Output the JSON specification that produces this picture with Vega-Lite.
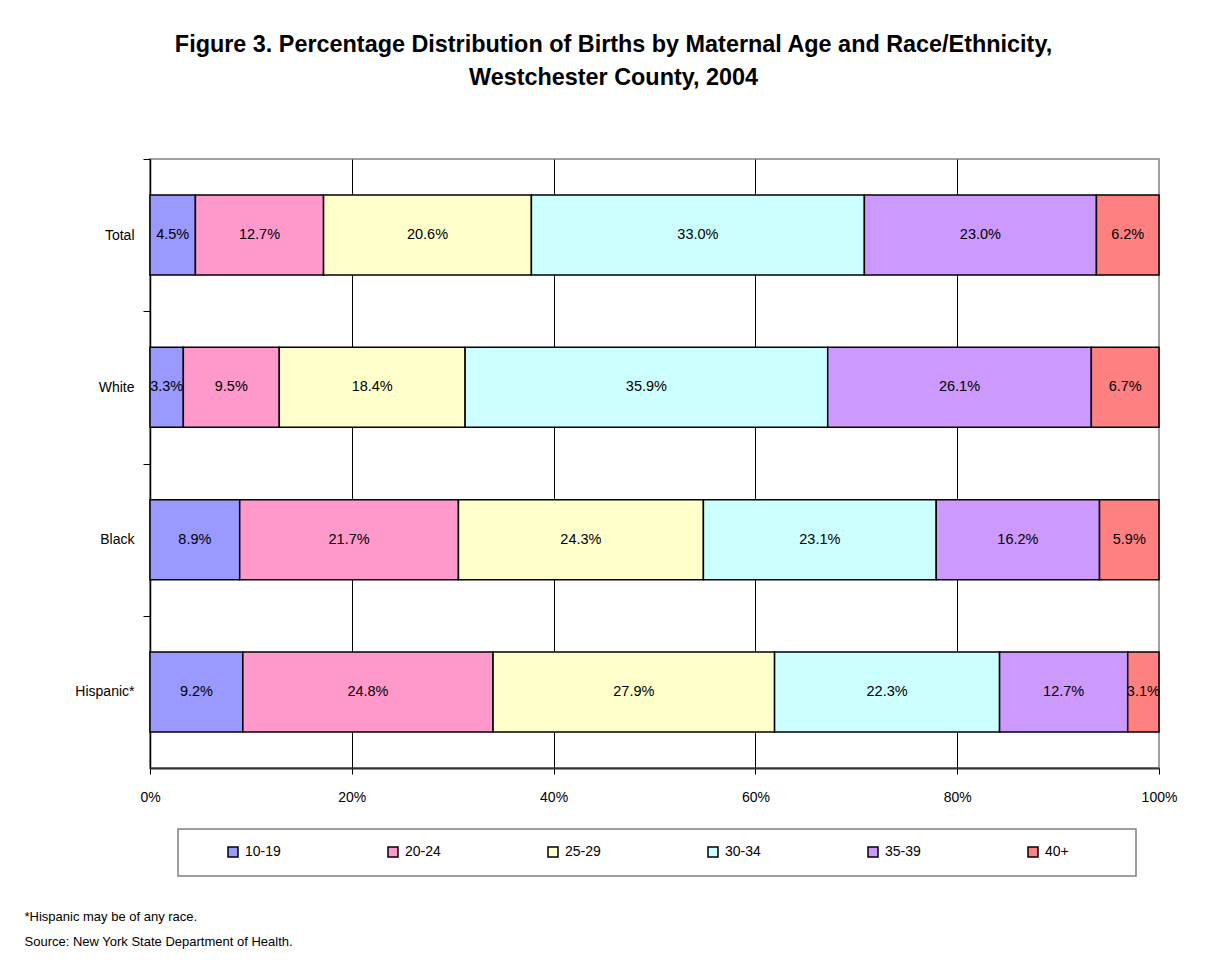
{
  "$schema": "https://vega.github.io/schema/vega-lite/v6.json",
  "width": 1009,
  "height": 609,
  "autosize": {"type": "none"},
  "padding": {"left": 150, "top": 159, "right": 68, "bottom": 208},
  "background": "white",
  "title": {
    "text": ["Figure 3. Percentage Distribution of Births by Maternal Age and Race/Ethnicity,", "Westchester County, 2004"],
    "font": "Liberation Sans",
    "fontSize": 23.4,
    "fontWeight": "bold",
    "color": "black",
    "anchor": "middle",
    "dx": -41,
    "offset": 68,
    "lineHeight": 33
  },
  "data": {
    "values": [
      {"race": "Total", "age": "10-19", "share": 0.045},
      {"race": "Total", "age": "20-24", "share": 0.127},
      {"race": "Total", "age": "25-29", "share": 0.206},
      {"race": "Total", "age": "30-34", "share": 0.330},
      {"race": "Total", "age": "35-39", "share": 0.230},
      {"race": "Total", "age": "40+", "share": 0.062},
      {"race": "White", "age": "10-19", "share": 0.033},
      {"race": "White", "age": "20-24", "share": 0.095},
      {"race": "White", "age": "25-29", "share": 0.184},
      {"race": "White", "age": "30-34", "share": 0.359},
      {"race": "White", "age": "35-39", "share": 0.261},
      {"race": "White", "age": "40+", "share": 0.067},
      {"race": "Black", "age": "10-19", "share": 0.089},
      {"race": "Black", "age": "20-24", "share": 0.217},
      {"race": "Black", "age": "25-29", "share": 0.243},
      {"race": "Black", "age": "30-34", "share": 0.231},
      {"race": "Black", "age": "35-39", "share": 0.162},
      {"race": "Black", "age": "40+", "share": 0.059},
      {"race": "Hispanic*", "age": "10-19", "share": 0.092},
      {"race": "Hispanic*", "age": "20-24", "share": 0.248},
      {"race": "Hispanic*", "age": "25-29", "share": 0.279},
      {"race": "Hispanic*", "age": "30-34", "share": 0.223},
      {"race": "Hispanic*", "age": "35-39", "share": 0.127},
      {"race": "Hispanic*", "age": "40+", "share": 0.031}
    ]
  },
  "transform": [
    {"stack": "share", "groupby": ["race"], "sort": [{"field": "age", "order": "ascending"}], "offset": "normalize", "as": ["x0", "x1"]},
    {"calculate": "(datum.x0 + datum.x1) / 2", "as": "xm"}
  ],
  "layer": [
    {
      "mark": {"type": "bar", "stroke": "black", "strokeWidth": 1.5},
      "encoding": {
        "y": {
          "field": "race", "type": "nominal",
          "sort": ["Total", "White", "Black", "Hispanic*"],
          "scale": {"paddingInner": 0.4745, "paddingOuter": 0.237},
          "axis": {
            "title": null,
            "domainColor": "black", "domainWidth": 1.5,
            "ticks": true, "tickColor": "black", "tickSize": 7, "tickWidth": 1,
            "tickOffset": -76.125, "labelOffset": 76.125,
            "labelFont": "Liberation Sans", "labelFontSize": 14, "labelColor": "black",
            "labelPadding": 9, "grid": false
          }
        },
        "x": {
          "field": "x0", "type": "quantitative",
          "scale": {"domain": [0, 1], "nice": false},
          "axis": {
            "values": [0, 0.2, 0.4, 0.6, 0.8, 1],
            "format": ".0%",
            "grid": true,
            "gridColor": "black",
            "gridWidth": 1,
            "gridOpacity": {"condition": {"test": "datum.value == 1 || datum.value == 0", "value": 0}, "value": 1},
            "domainColor": "#333333", "domainWidth": 2,
            "tickColor": "black", "tickSize": 6, "tickWidth": 1,
            "labelFont": "Liberation Sans", "labelFontSize": 14, "labelColor": "black",
            "labelPadding": 16, "labelFlush": false,
            "title": ["*Hispanic may be of any race.", "Source: New York State Department of Health."],
            "titleFont": "Liberation Sans", "titleFontSize": 13, "titleFontWeight": "normal",
            "titleColor": "black", "titleAnchor": "start", "titleAlign": "left",
            "titleX": -126, "titleY": 152, "titleBaseline": "alphabetic", "titleLineHeight": 25
          }
        },
        "x2": {"field": "x1"},
        "color": {
          "field": "age", "type": "nominal",
          "scale": {
            "domain": ["10-19", "20-24", "25-29", "30-34", "35-39", "40+"],
            "range": ["#9999FF", "#FF99CC", "#FFFFCC", "#CCFFFF", "#CC99FF", "#FF8080"]
          },
          "legend": {
            "title": "\u00a0",
            "titleOrient": "left", "titlePadding": 32, "titleFontSize": 14,
            "orient": "none", "legendX": 28, "legendY": 670,
            "direction": "horizontal",
            "columnPadding": 104,
            "padding": 16,
            "fillColor": "white",
            "strokeColor": "#808080",
            "symbolType": "square", "symbolSize": 100,
            "symbolStrokeColor": "black", "symbolStrokeWidth": 1.5, "symbolOpacity": 1,
            "labelFont": "Liberation Sans", "labelFontSize": 14, "labelColor": "black",
            "labelOffset": 5, "labelLimit": 400,
            "labelExpr": "datum.label == '40+' ? '40+\u00a0\u00a0\u00a0\u00a0\u00a0\u00a0\u00a0\u00a0\u00a0\u00a0\u00a0\u00a0\u00a0\u200b' : datum.label",
            "encode": {"legend": {"update": {"strokeWidth": {"value": 1.5}}}}
          }
        }
      }
    },
    {
      "mark": {"type": "text", "font": "Liberation Sans", "fontSize": 14.5, "color": "black", "align": "center", "baseline": "middle"},
      "encoding": {
        "y": {"field": "race", "type": "nominal", "sort": ["Total", "White", "Black", "Hispanic*"]},
        "x": {"field": "xm", "type": "quantitative"},
        "text": {"field": "share", "type": "quantitative", "format": ".1%"}
      }
    }
  ],
  "config": {
    "view": {"stroke": "#a0a0a0", "strokeWidth": 2}
  }
}
